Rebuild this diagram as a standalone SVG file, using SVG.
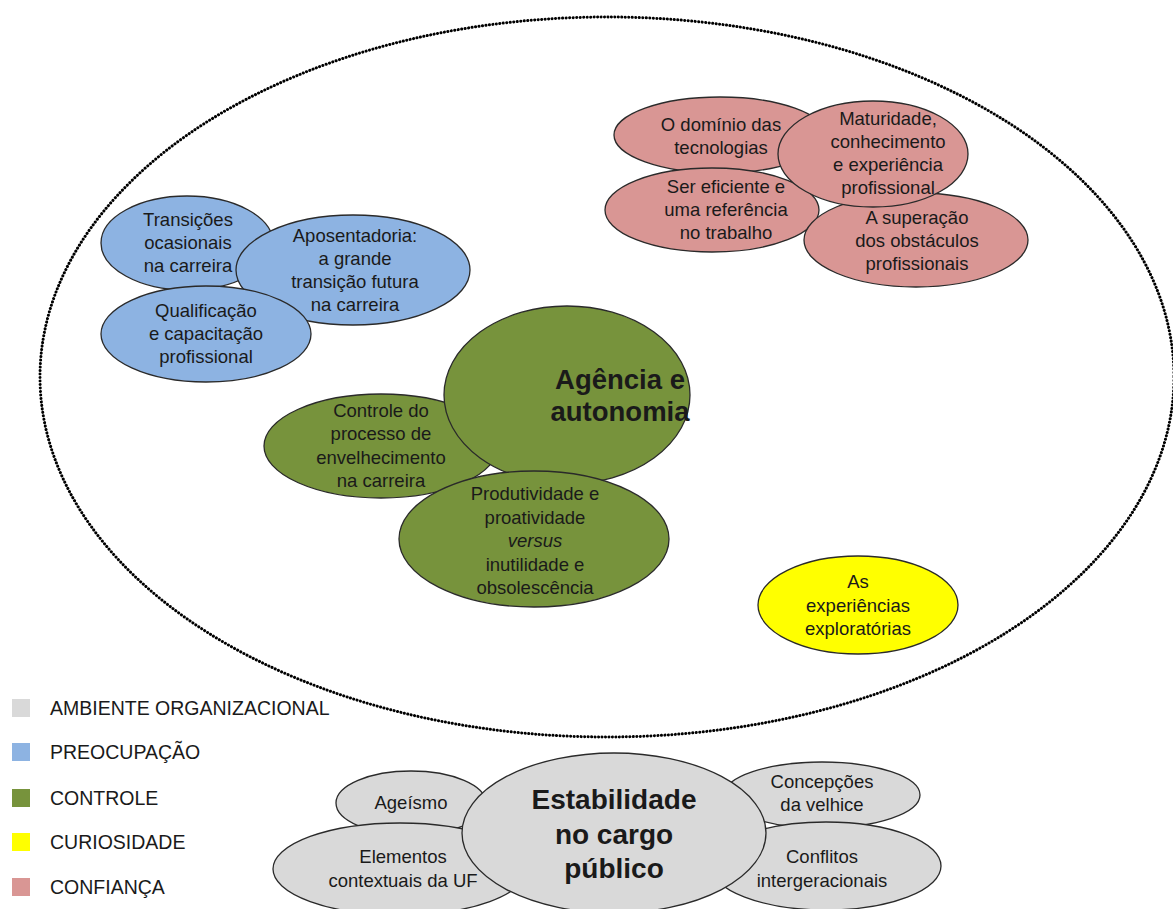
<svg xmlns="http://www.w3.org/2000/svg" width="1173" height="909" viewBox="0 0 1173 909">
<style>
.n{stroke:#2a2a2a;stroke-width:1.3}
.pk{fill:#d99694}.bl{fill:#8db3e2}.gr{fill:#77933c}.ye{fill:#ffff00}.gy{fill:#d9d9d9}
text{font-family:"Liberation Sans",Arial,sans-serif;fill:#1a1a1a;text-anchor:middle}
.t{font-size:18.5px}
.b{font-size:27.5px;font-weight:bold}
.b2{font-size:28px;font-weight:bold}
.lg{font-size:19.5px;text-anchor:start}
</style>
<rect width="1173" height="909" fill="#fff"/>
<g id="boundary">
<ellipse cx="607" cy="377" rx="567" ry="360" fill="none" stroke="#000" stroke-width="3" stroke-linecap="round" stroke-dasharray="0.1 3.4"/>
</g>
<g id="connectors"></g>
<g id="n-dominio"><ellipse class="n pk" cx="720" cy="135" rx="106" ry="38"/><text class="t"><tspan x="721" y="131">O domínio das</tspan><tspan x="721" y="154">tecnologias</tspan></text></g>
<g id="n-eficiente"><ellipse class="n pk" cx="712" cy="210" rx="107" ry="42"/><text class="t"><tspan x="726" y="193">Ser eficiente e</tspan><tspan x="726" y="216">uma referência</tspan><tspan x="726" y="239">no trabalho</tspan></text></g>
<g id="n-superacao"><ellipse class="n pk" cx="916" cy="240" rx="112" ry="47"/><text class="t"><tspan x="917" y="224">A superação</tspan><tspan x="917" y="247">dos obstáculos</tspan><tspan x="917" y="270">profissionais</tspan></text></g>
<g id="n-maturidade"><ellipse class="n pk" cx="873" cy="154" rx="95" ry="53"/><text class="t"><tspan x="888" y="125">Maturidade,</tspan><tspan x="888" y="148">conhecimento</tspan><tspan x="888" y="171">e experiência</tspan><tspan x="888" y="194">profissional</tspan></text></g>
<g id="n-transicoes"><ellipse class="n bl" cx="187" cy="243" rx="86" ry="47"/><text class="t"><tspan x="188" y="226">Transições</tspan><tspan x="188" y="249">ocasionais</tspan><tspan x="188" y="272">na carreira</tspan></text></g>
<g id="n-aposentadoria"><ellipse class="n bl" cx="353" cy="270" rx="117" ry="55"/><text class="t"><tspan x="355" y="242">Aposentadoria:</tspan><tspan x="355" y="265">a grande</tspan><tspan x="355" y="288">transição futura</tspan><tspan x="355" y="311">na carreira</tspan></text></g>
<g id="n-qualificacao"><ellipse class="n bl" cx="206" cy="334" rx="105" ry="48"/><text class="t"><tspan x="206" y="317">Qualificação</tspan><tspan x="206" y="340">e capacitação</tspan><tspan x="206" y="363">profissional</tspan></text></g>
<g id="n-controle"><ellipse class="n gr" cx="381" cy="446" rx="117" ry="52"/><text class="t"><tspan x="381" y="417">Controle do</tspan><tspan x="381" y="440">processo de</tspan><tspan x="381" y="464">envelhecimento</tspan><tspan x="381" y="487">na carreira</tspan></text></g>
<g id="n-agencia"><ellipse class="n gr" cx="567" cy="395" rx="123" ry="89"/><text class="b"><tspan x="620" y="389">Agência e</tspan><tspan x="620" y="421">autonomia</tspan></text></g>
<g id="n-produtividade"><ellipse class="n gr" cx="534" cy="539" rx="135" ry="68"/><text class="t"><tspan x="535" y="500">Produtividade e</tspan><tspan x="535" y="524">proatividade</tspan><tspan x="535" y="547" font-style="italic">versus</tspan><tspan x="535" y="571">inutilidade e</tspan><tspan x="535" y="594">obsolescência</tspan></text></g>
<g id="n-exploratorias"><ellipse class="n ye" cx="858" cy="605" rx="100" ry="49"/><text class="t"><tspan x="858" y="588">As</tspan><tspan x="858" y="612">experiências</tspan><tspan x="858" y="635">exploratórias</tspan></text></g>
<g id="n-ageismo"><ellipse class="n gy" cx="411" cy="803" rx="75" ry="32"/><text class="t" x="411" y="809">Ageísmo</text></g>
<g id="n-elementos"><ellipse class="n gy" cx="400" cy="869" rx="127" ry="46"/><text class="t"><tspan x="403" y="863">Elementos</tspan><tspan x="403" y="887">contextuais da UF</tspan></text></g>
<g id="n-concepcoes"><ellipse class="n gy" cx="822" cy="795" rx="98" ry="33"/><text class="t"><tspan x="822" y="788">Concepções</tspan><tspan x="822" y="811">da velhice</tspan></text></g>
<g id="n-conflitos"><ellipse class="n gy" cx="826" cy="866" rx="115" ry="44"/><text class="t"><tspan x="822" y="863">Conflitos</tspan><tspan x="822" y="887">intergeracionais</tspan></text></g>
<g id="n-estabilidade"><ellipse class="n gy" cx="614" cy="833" rx="152" ry="80"/><text class="b2"><tspan x="614" y="809">Estabilidade</tspan><tspan x="614" y="844">no cargo</tspan><tspan x="614" y="878">público</tspan></text></g>
<g id="legend">
<rect x="12" y="699" width="18" height="18" class="gy"/><text class="lg" x="50" y="715">AMBIENTE ORGANIZACIONAL</text>
<rect x="12" y="743" width="18" height="18" class="bl"/><text class="lg" x="50" y="759">PREOCUPAÇÃO</text>
<rect x="12" y="789" width="18" height="18" class="gr"/><text class="lg" x="50" y="805">CONTROLE</text>
<rect x="12" y="833" width="18" height="18" class="ye"/><text class="lg" x="50" y="849">CURIOSIDADE</text>
<rect x="12" y="878" width="18" height="18" class="pk"/><text class="lg" x="50" y="894">CONFIANÇA</text>
</g>
</svg>
